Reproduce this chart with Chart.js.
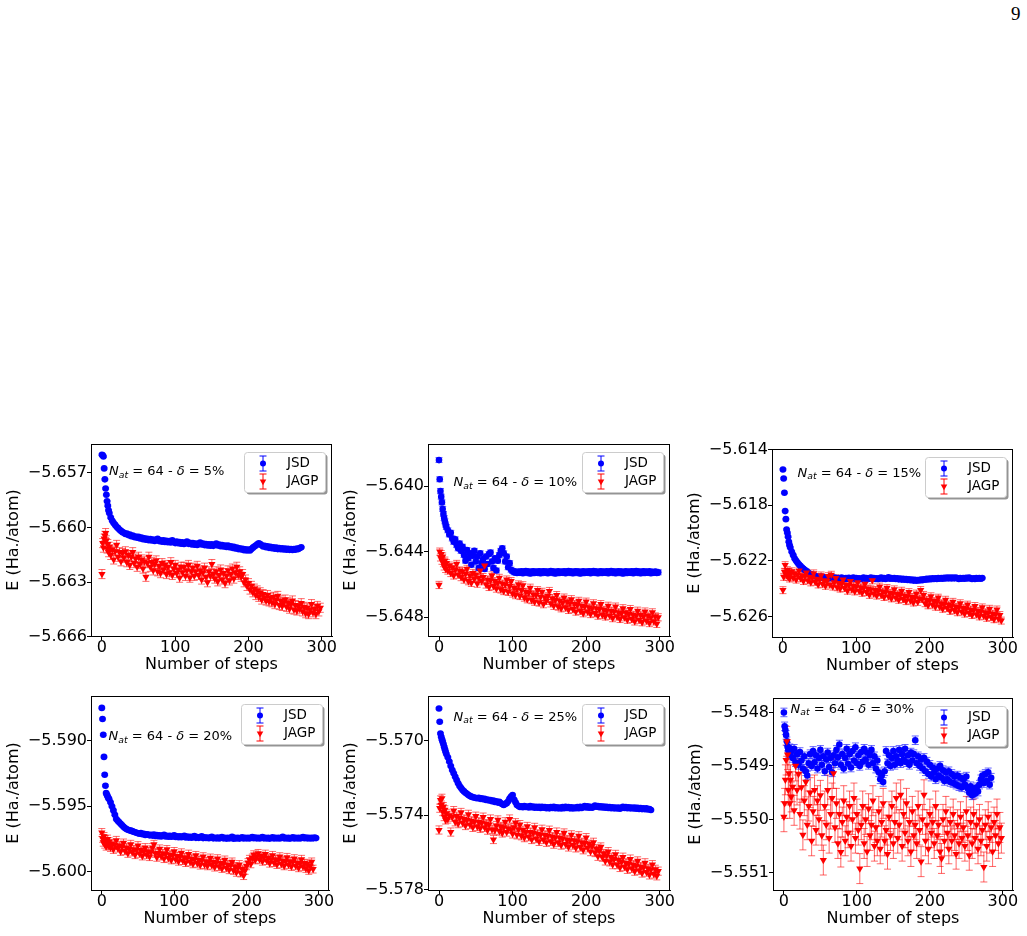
<!DOCTYPE html>
<html><head><meta charset="utf-8">
<script src="https://cdn.jsdelivr.net/npm/chart.js@4.4.1/dist/chart.umd.min.js"></script>
<style>
html,body{margin:0;padding:0;background:#fff;}
body{width:1027px;height:936px;position:relative;overflow:hidden;}
canvas{position:absolute;}
#pg{position:absolute;left:1011px;top:4px;font-family:"Liberation Serif",serif;font-size:19px;line-height:19px;color:#000;}
</style></head><body>
<div id="pg">9</div>
<script>
// ---------------- DATA ----------------
const steps = [0,1,2,3,4,5,6,7,8,9,
10,12,14,16,18,20,22,24,26,28,
30,32,34,36,38,40,42,44,46,48,
50,52,54,56,58,60,62,64,66,68,
70,72,74,76,78,80,82,84,86,88,
90,92,94,96,98,100,102,104,106,108,
110,112,114,116,118,120,122,124,126,128,
130,132,134,136,138,140,142,144,146,148,
150,152,154,156,158,160,162,164,166,168,
170,172,174,176,178,180,182,184,186,188,
190,192,194,196,198,200,202,204,206,208,
210,212,214,216,218,220,222,224,226,228,
230,232,234,236,238,240,242,244,246,248,
250,252,254,256,258,260,262,264,266,268,
270,272,274,276,278,280,282,284,286,288,
290,292,294,296,298];
const xTicks = [0,100,200,300];
const deltas = ['5%','10%','15%','20%','25%','30%'];
const seriesNames = ['JSD','JAGP'];

const jsd5 = [-5.65600,-5.65603,-5.65610,-5.65675,-5.65735,-5.65785,-5.65820,-5.65855,-5.65880,-5.65905,
-5.65920,-5.65945,-5.65962,-5.65975,-5.65985,-5.65995,-5.66003,-5.66012,-5.66018,-5.66025,
-5.66028,-5.66035,-5.66032,-5.66041,-5.66038,-5.66047,-5.66044,-5.66052,-5.66049,-5.66056,
-5.66050,-5.66060,-5.66055,-5.66064,-5.66058,-5.66067,-5.66061,-5.66069,-5.66063,-5.66071,
-5.66065,-5.66073,-5.66067,-5.66062,-5.66074,-5.66069,-5.66077,-5.66070,-5.66079,-5.66072,
-5.66080,-5.66074,-5.66082,-5.66069,-5.66079,-5.66085,-5.66077,-5.66086,-5.66079,-5.66088,
-5.66081,-5.66090,-5.66083,-5.66076,-5.66089,-5.66084,-5.66092,-5.66085,-5.66094,-5.66087,
-5.66095,-5.66088,-5.66082,-5.66093,-5.66087,-5.66096,-5.66090,-5.66098,-5.66091,-5.66099,
-5.66092,-5.66100,-5.66094,-5.66088,-5.66098,-5.66093,-5.66102,-5.66096,-5.66104,-5.66098,
-5.66106,-5.66099,-5.66108,-5.66102,-5.66111,-5.66105,-5.66114,-5.66110,-5.66118,-5.66113,
-5.66120,-5.66116,-5.66124,-5.66119,-5.66126,-5.66121,-5.66125,-5.66117,-5.66110,-5.66104,
-5.66098,-5.66092,-5.66086,-5.66090,-5.66097,-5.66104,-5.66100,-5.66108,-5.66103,-5.66111,
-5.66106,-5.66113,-5.66108,-5.66116,-5.66110,-5.66118,-5.66112,-5.66119,-5.66114,-5.66120,
-5.66115,-5.66121,-5.66116,-5.66122,-5.66117,-5.66123,-5.66118,-5.66121,-5.66115,-5.66118,
-5.66112,-5.66108];
const jagp5 = [-5.66255,-5.66085,-5.66110,-5.66060,-5.66045,-5.66030,-5.66070,-5.66115,-5.66090,-5.66135,
-5.66105,-5.66150,-5.66120,-5.66175,-5.66130,-5.66095,-5.66160,-5.66135,-5.66185,-5.66140,
-5.66165,-5.66130,-5.66190,-5.66150,-5.66205,-5.66160,-5.66135,-5.66195,-5.66170,-5.66215,
-5.66160,-5.66200,-5.66175,-5.66225,-5.66185,-5.66270,-5.66195,-5.66160,-5.66215,-5.66190,
-5.66235,-5.66200,-5.66180,-5.66240,-5.66210,-5.66250,-5.66195,-5.66230,-5.66205,-5.66255,
-5.66215,-5.66245,-5.66190,-5.66260,-5.66225,-5.66205,-5.66250,-5.66230,-5.66275,-5.66215,
-5.66245,-5.66215,-5.66265,-5.66235,-5.66205,-5.66275,-5.66240,-5.66220,-5.66265,-5.66240,
-5.66210,-5.66260,-5.66235,-5.66285,-5.66245,-5.66220,-5.66270,-5.66300,-5.66240,-5.66265,
-5.66200,-5.66255,-5.66280,-5.66240,-5.66295,-5.66260,-5.66230,-5.66285,-5.66250,-5.66305,
-5.66265,-5.66235,-5.66290,-5.66255,-5.66225,-5.66280,-5.66245,-5.66215,-5.66260,-5.66240,
-5.66270,-5.66255,-5.66300,-5.66285,-5.66320,-5.66305,-5.66340,-5.66320,-5.66355,-5.66335,
-5.66370,-5.66345,-5.66380,-5.66355,-5.66395,-5.66365,-5.66385,-5.66400,-5.66370,-5.66405,
-5.66385,-5.66410,-5.66380,-5.66420,-5.66395,-5.66375,-5.66425,-5.66400,-5.66430,-5.66410,
-5.66395,-5.66435,-5.66410,-5.66445,-5.66420,-5.66400,-5.66450,-5.66425,-5.66455,-5.66430,
-5.66445,-5.66415,-5.66460,-5.66435,-5.66470,-5.66440,-5.66475,-5.66450,-5.66420,-5.66465,
-5.66445,-5.66475,-5.66430,-5.66460,-5.66440];

const jsd10 = [-5.63842,-5.63959,-5.64030,-5.64065,-5.64100,-5.64140,-5.64170,-5.64195,-5.64215,-5.64235,
-5.64250,-5.64270,-5.64295,-5.64285,-5.64320,-5.64340,-5.64325,-5.64360,-5.64380,-5.64350,
-5.64395,-5.64370,-5.64420,-5.64455,-5.64390,-5.64440,-5.64410,-5.64480,-5.64425,-5.64395,
-5.64460,-5.64430,-5.64500,-5.64410,-5.64470,-5.64445,-5.64505,-5.64430,-5.64475,-5.64415,
-5.64405,-5.64460,-5.64500,-5.64440,-5.64515,-5.64455,-5.64420,-5.64395,-5.64380,-5.64410,
-5.64460,-5.64430,-5.64495,-5.64470,-5.64510,-5.64518,-5.64526,-5.64521,-5.64530,-5.64523,
-5.64528,-5.64520,-5.64531,-5.64524,-5.64518,-5.64529,-5.64522,-5.64533,-5.64525,-5.64519,
-5.64530,-5.64523,-5.64528,-5.64520,-5.64532,-5.64525,-5.64519,-5.64529,-5.64522,-5.64531,
-5.64524,-5.64518,-5.64529,-5.64522,-5.64533,-5.64526,-5.64520,-5.64530,-5.64523,-5.64528,
-5.64520,-5.64531,-5.64524,-5.64518,-5.64528,-5.64521,-5.64532,-5.64525,-5.64519,-5.64529,
-5.64522,-5.64533,-5.64526,-5.64520,-5.64530,-5.64523,-5.64528,-5.64519,-5.64531,-5.64524,
-5.64518,-5.64529,-5.64522,-5.64532,-5.64525,-5.64519,-5.64530,-5.64523,-5.64528,-5.64520,
-5.64531,-5.64524,-5.64518,-5.64528,-5.64521,-5.64532,-5.64525,-5.64519,-5.64529,-5.64522,
-5.64533,-5.64526,-5.64520,-5.64530,-5.64523,-5.64528,-5.64519,-5.64531,-5.64524,-5.64518,
-5.64529,-5.64522,-5.64532,-5.64525,-5.64519,-5.64530,-5.64523,-5.64528,-5.64520,-5.64531,
-5.64524,-5.64529,-5.64522,-5.64530,-5.64526];
const jagp10 = [-5.64603,-5.64400,-5.64435,-5.64415,-5.64455,-5.64430,-5.64470,-5.64490,-5.64455,-5.64505,
-5.64470,-5.64515,-5.64485,-5.64530,-5.64495,-5.64545,-5.64510,-5.64475,-5.64540,-5.64515,
-5.64555,-5.64520,-5.64570,-5.64535,-5.64505,-5.64580,-5.64545,-5.64590,-5.64530,-5.64565,
-5.64540,-5.64595,-5.64560,-5.64515,-5.64580,-5.64555,-5.64485,-5.64600,-5.64570,-5.64615,
-5.64575,-5.64545,-5.64610,-5.64580,-5.64625,-5.64590,-5.64560,-5.64630,-5.64595,-5.64640,
-5.64600,-5.64570,-5.64645,-5.64610,-5.64580,-5.64655,-5.64620,-5.64665,-5.64630,-5.64600,
-5.64670,-5.64635,-5.64605,-5.64680,-5.64645,-5.64690,-5.64650,-5.64620,-5.64695,-5.64660,
-5.64705,-5.64665,-5.64635,-5.64710,-5.64675,-5.64645,-5.64720,-5.64680,-5.64700,-5.64670,
-5.64640,-5.64715,-5.64685,-5.64730,-5.64695,-5.64665,-5.64735,-5.64700,-5.64745,-5.64710,
-5.64680,-5.64740,-5.64705,-5.64755,-5.64715,-5.64690,-5.64750,-5.64720,-5.64765,-5.64725,
-5.64700,-5.64760,-5.64730,-5.64775,-5.64735,-5.64705,-5.64765,-5.64740,-5.64780,-5.64745,
-5.64715,-5.64775,-5.64745,-5.64790,-5.64750,-5.64720,-5.64785,-5.64755,-5.64795,-5.64760,
-5.64730,-5.64790,-5.64760,-5.64805,-5.64765,-5.64735,-5.64795,-5.64770,-5.64810,-5.64775,
-5.64745,-5.64800,-5.64770,-5.64815,-5.64780,-5.64750,-5.64810,-5.64785,-5.64825,-5.64790,
-5.64760,-5.64815,-5.64785,-5.64830,-5.64795,-5.64765,-5.64820,-5.64790,-5.64835,-5.64800,
-5.64770,-5.64825,-5.64795,-5.64840,-5.64800];

const jsd15 = [-5.61542,-5.61607,-5.61710,-5.61842,-5.61900,-5.61974,-5.61998,-5.62027,-5.62063,-5.62087,
-5.62104,-5.62135,-5.62159,-5.62183,-5.62200,-5.62214,-5.62226,-5.62238,-5.62248,-5.62258,
-5.62266,-5.62274,-5.62283,-5.62291,-5.62296,-5.62301,-5.62306,-5.62310,-5.62313,-5.62315,
-5.62318,-5.62313,-5.62322,-5.62316,-5.62324,-5.62319,-5.62326,-5.62320,-5.62325,-5.62318,
-5.62327,-5.62322,-5.62329,-5.62323,-5.62328,-5.62321,-5.62326,-5.62331,-5.62324,-5.62329,
-5.62322,-5.62330,-5.62325,-5.62320,-5.62328,-5.62323,-5.62330,-5.62326,-5.62332,-5.62327,
-5.62321,-5.62329,-5.62324,-5.62331,-5.62326,-5.62320,-5.62328,-5.62323,-5.62330,-5.62325,
-5.62331,-5.62326,-5.62320,-5.62329,-5.62324,-5.62330,-5.62325,-5.62319,-5.62328,-5.62323,
-5.62329,-5.62324,-5.62331,-5.62326,-5.62333,-5.62328,-5.62335,-5.62330,-5.62336,-5.62331,
-5.62338,-5.62333,-5.62340,-5.62335,-5.62342,-5.62337,-5.62343,-5.62338,-5.62341,-5.62335,
-5.62339,-5.62333,-5.62336,-5.62330,-5.62334,-5.62328,-5.62332,-5.62326,-5.62331,-5.62325,
-5.62330,-5.62324,-5.62329,-5.62323,-5.62328,-5.62322,-5.62327,-5.62321,-5.62326,-5.62320,
-5.62327,-5.62321,-5.62326,-5.62320,-5.62325,-5.62330,-5.62324,-5.62329,-5.62323,-5.62328,
-5.62322,-5.62327,-5.62321,-5.62326,-5.62331,-5.62325,-5.62330,-5.62324,-5.62329,-5.62323,
-5.62328,-5.62324];
const jagp15 = [-5.62411,-5.62315,-5.62279,-5.62231,-5.62291,-5.62303,-5.62267,-5.62315,-5.62280,-5.62327,
-5.62295,-5.62275,-5.62320,-5.62290,-5.62335,-5.62300,-5.62270,-5.62325,-5.62305,-5.62345,
-5.62310,-5.62285,-5.62340,-5.62315,-5.62355,-5.62320,-5.62290,-5.62350,-5.62330,-5.62370,
-5.62335,-5.62305,-5.62365,-5.62340,-5.62380,-5.62345,-5.62310,-5.62370,-5.62300,-5.62385,
-5.62355,-5.62325,-5.62390,-5.62360,-5.62400,-5.62365,-5.62335,-5.62395,-5.62370,-5.62415,
-5.62375,-5.62345,-5.62405,-5.62380,-5.62420,-5.62385,-5.62355,-5.62415,-5.62390,-5.62430,
-5.62395,-5.62365,-5.62425,-5.62400,-5.62445,-5.62405,-5.62340,-5.62435,-5.62410,-5.62450,
-5.62415,-5.62385,-5.62445,-5.62420,-5.62460,-5.62425,-5.62395,-5.62455,-5.62430,-5.62470,
-5.62435,-5.62405,-5.62465,-5.62440,-5.62480,-5.62445,-5.62415,-5.62475,-5.62450,-5.62490,
-5.62455,-5.62425,-5.62485,-5.62460,-5.62500,-5.62465,-5.62435,-5.62495,-5.62470,-5.62410,
-5.62475,-5.62445,-5.62505,-5.62480,-5.62520,-5.62485,-5.62455,-5.62515,-5.62490,-5.62530,
-5.62495,-5.62465,-5.62530,-5.62505,-5.62545,-5.62510,-5.62480,-5.62540,-5.62515,-5.62560,
-5.62525,-5.62495,-5.62555,-5.62530,-5.62570,-5.62535,-5.62505,-5.62565,-5.62540,-5.62580,
-5.62545,-5.62515,-5.62575,-5.62550,-5.62590,-5.62555,-5.62525,-5.62585,-5.62560,-5.62600,
-5.62565,-5.62535,-5.62595,-5.62570,-5.62610,-5.62575,-5.62545,-5.62605,-5.62580,-5.62620,
-5.62585,-5.62550,-5.62615,-5.62590,-5.62630];

const jsd20 = [-5.58747,-5.58832,-5.58952,-5.59122,-5.59258,-5.59342,-5.59398,-5.59411,-5.59423,-5.59436,
-5.59444,-5.59469,-5.59500,-5.59531,-5.59564,-5.59597,-5.59610,-5.59622,-5.59634,-5.59645,
-5.59656,-5.59666,-5.59673,-5.59679,-5.59683,-5.59686,-5.59690,-5.59694,-5.59698,-5.59702,
-5.59706,-5.59709,-5.59705,-5.59714,-5.59710,-5.59719,-5.59713,-5.59716,-5.59722,-5.59718,
-5.59724,-5.59715,-5.59727,-5.59720,-5.59728,-5.59722,-5.59730,-5.59724,-5.59718,-5.59731,
-5.59725,-5.59732,-5.59726,-5.59733,-5.59728,-5.59722,-5.59735,-5.59729,-5.59736,-5.59730,
-5.59737,-5.59731,-5.59725,-5.59738,-5.59732,-5.59739,-5.59733,-5.59740,-5.59734,-5.59728,
-5.59741,-5.59735,-5.59741,-5.59736,-5.59730,-5.59743,-5.59737,-5.59742,-5.59738,-5.59744,
-5.59739,-5.59733,-5.59745,-5.59740,-5.59745,-5.59739,-5.59746,-5.59741,-5.59735,-5.59745,
-5.59740,-5.59747,-5.59741,-5.59746,-5.59740,-5.59734,-5.59748,-5.59741,-5.59746,-5.59740,
-5.59747,-5.59742,-5.59736,-5.59746,-5.59740,-5.59745,-5.59741,-5.59746,-5.59740,-5.59735,
-5.59744,-5.59738,-5.59745,-5.59740,-5.59746,-5.59741,-5.59735,-5.59745,-5.59740,-5.59746,
-5.59741,-5.59747,-5.59742,-5.59736,-5.59746,-5.59740,-5.59745,-5.59741,-5.59746,-5.59740,
-5.59734,-5.59745,-5.59740,-5.59746,-5.59741,-5.59747,-5.59742,-5.59736,-5.59746,-5.59740,
-5.59745,-5.59741,-5.59746,-5.59740,-5.59735,-5.59744,-5.59739,-5.59745,-5.59740,-5.59746,
-5.59741,-5.59745,-5.59739,-5.59743];
const jagp20 = [-5.59700,-5.59745,-5.59775,-5.59730,-5.59790,-5.59755,-5.59805,-5.59770,-5.59750,-5.59800,
-5.59770,-5.59815,-5.59785,-5.59830,-5.59795,-5.59760,-5.59820,-5.59800,-5.59845,-5.59810,
-5.59780,-5.59840,-5.59815,-5.59860,-5.59825,-5.59790,-5.59850,-5.59830,-5.59870,-5.59835,
-5.59800,-5.59860,-5.59835,-5.59880,-5.59845,-5.59815,-5.59870,-5.59845,-5.59885,-5.59850,
-5.59815,-5.59790,-5.59860,-5.59890,-5.59855,-5.59825,-5.59880,-5.59860,-5.59900,-5.59865,
-5.59830,-5.59895,-5.59870,-5.59910,-5.59875,-5.59845,-5.59905,-5.59880,-5.59920,-5.59885,
-5.59855,-5.59915,-5.59890,-5.59930,-5.59895,-5.59865,-5.59925,-5.59900,-5.59940,-5.59905,
-5.59875,-5.59935,-5.59910,-5.59950,-5.59915,-5.59885,-5.59945,-5.59920,-5.59955,-5.59925,
-5.59895,-5.59950,-5.59925,-5.59965,-5.59930,-5.59900,-5.59960,-5.59935,-5.59975,-5.59940,
-5.59910,-5.59970,-5.59945,-5.59985,-5.59950,-5.59925,-5.59990,-5.59960,-5.60005,-5.59970,
-5.59945,-5.60010,-5.59980,-5.60030,-5.59990,-5.59955,-5.59930,-5.59905,-5.59940,-5.59895,
-5.59870,-5.59910,-5.59885,-5.59860,-5.59905,-5.59880,-5.59920,-5.59890,-5.59865,-5.59915,
-5.59895,-5.59935,-5.59905,-5.59875,-5.59930,-5.59905,-5.59945,-5.59910,-5.59885,-5.59940,
-5.59915,-5.59955,-5.59920,-5.59890,-5.59945,-5.59920,-5.59960,-5.59925,-5.59900,-5.59955,
-5.59930,-5.59970,-5.59935,-5.59905,-5.59960,-5.59935,-5.59975,-5.59940,-5.59990,-5.59955,
-5.59925,-5.59980];

const jsd25 = [-5.56827,-5.56898,-5.56961,-5.56979,-5.56993,-5.57005,-5.57018,-5.57032,-5.57046,-5.57059,
-5.57071,-5.57089,-5.57112,-5.57136,-5.57157,-5.57175,-5.57193,-5.57211,-5.57228,-5.57243,
-5.57254,-5.57264,-5.57272,-5.57279,-5.57285,-5.57291,-5.57296,-5.57300,-5.57303,-5.57305,
-5.57307,-5.57309,-5.57306,-5.57312,-5.57309,-5.57314,-5.57311,-5.57318,-5.57315,-5.57321,
-5.57318,-5.57325,-5.57321,-5.57329,-5.57325,-5.57332,-5.57328,-5.57336,-5.57340,-5.57345,
-5.57339,-5.57335,-5.57325,-5.57310,-5.57300,-5.57291,-5.57315,-5.57330,-5.57345,-5.57350,
-5.57356,-5.57352,-5.57357,-5.57350,-5.57356,-5.57353,-5.57358,-5.57351,-5.57357,-5.57353,
-5.57359,-5.57354,-5.57360,-5.57355,-5.57361,-5.57354,-5.57360,-5.57356,-5.57362,-5.57357,
-5.57363,-5.57356,-5.57361,-5.57355,-5.57362,-5.57357,-5.57363,-5.57358,-5.57364,-5.57356,
-5.57362,-5.57355,-5.57361,-5.57356,-5.57363,-5.57357,-5.57364,-5.57358,-5.57362,-5.57356,
-5.57362,-5.57355,-5.57361,-5.57356,-5.57350,-5.57358,-5.57352,-5.57359,-5.57354,-5.57360,
-5.57355,-5.57348,-5.57354,-5.57350,-5.57357,-5.57352,-5.57358,-5.57353,-5.57359,-5.57355,
-5.57361,-5.57356,-5.57362,-5.57357,-5.57363,-5.57358,-5.57364,-5.57359,-5.57365,-5.57360,
-5.57355,-5.57361,-5.57356,-5.57362,-5.57357,-5.57363,-5.57358,-5.57364,-5.57359,-5.57365,
-5.57360,-5.57366,-5.57361,-5.57367,-5.57362,-5.57368,-5.57363,-5.57369,-5.57366,-5.57372];
const jagp25 = [-5.57479,-5.57362,-5.57318,-5.57345,-5.57309,-5.57380,-5.57354,-5.57407,-5.57371,-5.57425,
-5.57390,-5.57420,-5.57400,-5.57490,-5.57410,-5.57375,-5.57435,-5.57405,-5.57445,-5.57415,
-5.57385,-5.57440,-5.57420,-5.57455,-5.57425,-5.57395,-5.57450,-5.57430,-5.57465,-5.57435,
-5.57405,-5.57460,-5.57435,-5.57470,-5.57440,-5.57410,-5.57465,-5.57445,-5.57480,-5.57450,
-5.57420,-5.57475,-5.57530,-5.57480,-5.57455,-5.57425,-5.57485,-5.57460,-5.57495,-5.57465,
-5.57435,-5.57490,-5.57470,-5.57420,-5.57475,-5.57500,-5.57465,-5.57440,-5.57505,-5.57475,
-5.57450,-5.57510,-5.57480,-5.57520,-5.57490,-5.57460,-5.57515,-5.57490,-5.57530,-5.57495,
-5.57465,-5.57525,-5.57500,-5.57540,-5.57505,-5.57475,-5.57530,-5.57505,-5.57545,-5.57510,
-5.57480,-5.57540,-5.57515,-5.57555,-5.57520,-5.57490,-5.57545,-5.57520,-5.57560,-5.57525,
-5.57495,-5.57555,-5.57530,-5.57570,-5.57535,-5.57505,-5.57560,-5.57535,-5.57575,-5.57540,
-5.57510,-5.57570,-5.57545,-5.57585,-5.57550,-5.57520,-5.57575,-5.57555,-5.57595,-5.57565,
-5.57545,-5.57600,-5.57580,-5.57620,-5.57590,-5.57570,-5.57625,-5.57605,-5.57645,-5.57615,
-5.57595,-5.57650,-5.57625,-5.57665,-5.57635,-5.57610,-5.57665,-5.57640,-5.57680,-5.57650,
-5.57625,-5.57675,-5.57655,-5.57690,-5.57660,-5.57635,-5.57685,-5.57665,-5.57700,-5.57670,
-5.57645,-5.57695,-5.57675,-5.57710,-5.57680,-5.57655,-5.57705,-5.57685,-5.57720,-5.57690,
-5.57665,-5.57715,-5.57690,-5.57725,-5.57700];

const jsd30 = [-5.54800,-5.54826,-5.54833,-5.54842,-5.54854,-5.54864,-5.54870,-5.54876,-5.54867,-5.54879,
-5.54872,-5.54885,-5.54868,-5.54893,-5.54878,-5.54898,-5.54874,-5.54890,-5.54905,-5.54882,
-5.54910,-5.54918,-5.54895,-5.54878,-5.54900,-5.54872,-5.54893,-5.54880,-5.54905,-5.54885,
-5.54870,-5.54898,-5.54882,-5.54910,-5.54888,-5.54875,-5.54902,-5.54885,-5.54912,-5.54880,
-5.54895,-5.54870,-5.54884,-5.54860,-5.54898,-5.54878,-5.54905,-5.54885,-5.54868,-5.54896,
-5.54878,-5.54903,-5.54872,-5.54890,-5.54865,-5.54895,-5.54880,-5.54900,-5.54874,-5.54892,
-5.54868,-5.54888,-5.54875,-5.54898,-5.54880,-5.54870,-5.54895,-5.54882,-5.54905,-5.54890,
-5.54912,-5.54925,-5.54918,-5.54930,-5.54910,-5.54872,-5.54895,-5.54880,-5.54900,-5.54885,
-5.54872,-5.54898,-5.54882,-5.54890,-5.54870,-5.54895,-5.54878,-5.54888,-5.54868,-5.54893,
-5.54880,-5.54898,-5.54875,-5.54890,-5.54878,-5.54852,-5.54895,-5.54882,-5.54900,-5.54888,
-5.54905,-5.54885,-5.54910,-5.54892,-5.54915,-5.54898,-5.54920,-5.54903,-5.54912,-5.54925,
-5.54905,-5.54918,-5.54900,-5.54922,-5.54908,-5.54928,-5.54912,-5.54925,-5.54910,-5.54930,
-5.54915,-5.54932,-5.54920,-5.54935,-5.54918,-5.54938,-5.54922,-5.54940,-5.54925,-5.54935,
-5.54920,-5.54942,-5.54950,-5.54938,-5.54955,-5.54945,-5.54952,-5.54940,-5.54948,-5.54935,
-5.54925,-5.54918,-5.54932,-5.54915,-5.54928,-5.54912,-5.54935,-5.54922];
const jagp30 = [-5.54995,-5.54970,-5.54926,-5.54889,-5.54854,-5.54879,-5.54945,-5.54914,-5.54970,-5.54926,
-5.54958,-5.54939,-5.54983,-5.54900,-5.54945,-5.54915,-5.54990,-5.54940,-5.55029,-5.54965,
-5.54930,-5.55010,-5.54975,-5.54950,-5.55040,-5.54985,-5.54945,-5.55020,-5.54965,-5.55000,
-5.54955,-5.55030,-5.55076,-5.54975,-5.55010,-5.54945,-5.55035,-5.54990,-5.54960,-5.54914,
-5.55015,-5.54970,-5.55045,-5.54990,-5.55061,-5.55005,-5.54965,-5.55040,-5.54995,-5.55025,
-5.54975,-5.55050,-5.55000,-5.54960,-5.55035,-5.54990,-5.55020,-5.55092,-5.55010,-5.54975,
-5.55045,-5.55000,-5.55060,-5.54980,-5.55030,-5.55010,-5.54965,-5.55050,-5.55015,-5.55040,
-5.54985,-5.55055,-5.55005,-5.54970,-5.55040,-5.55020,-5.55065,-5.54995,-5.55030,-5.54975,
-5.55045,-5.55005,-5.54960,-5.55035,-5.55010,-5.54954,-5.55050,-5.54990,-5.55025,-5.54970,
-5.55040,-5.55005,-5.55060,-5.54985,-5.55030,-5.55010,-5.55045,-5.54975,-5.55020,-5.55079,
-5.55000,-5.54954,-5.55040,-5.55010,-5.55055,-5.54990,-5.55025,-5.55005,-5.55045,-5.54975,
-5.55030,-5.55010,-5.55060,-5.55073,-5.55000,-5.55040,-5.54985,-5.55025,-5.55055,-5.55005,
-5.55040,-5.54990,-5.55030,-5.55065,-5.55010,-5.55045,-5.54995,-5.55035,-5.55015,-5.55050,
-5.54985,-5.55030,-5.55067,-5.55005,-5.55045,-5.54990,-5.55035,-5.55010,-5.55055,-5.55000,
-5.55040,-5.55020,-5.55089,-5.55010,-5.55050,-5.54995,-5.55035,-5.55015,-5.55060,-5.55005,
-5.55030,-5.54990,-5.55045,-5.55015,-5.55035];

const jsdErr  = [0.00004, 0.00015, 0.00005, 0.00006, 0.00004, 0.00008];
const jagpErr = [0.00025, 0.00022, 0.00025, 0.00030, 0.00022, 0.00028];

const yTicks5  = [-5.666,-5.663,-5.660,-5.657];
const yTicks10 = [-5.648,-5.644,-5.640];
const yTicks15 = [-5.626,-5.622,-5.618,-5.614];
const yTicks20 = [-5.600,-5.595,-5.590];
const yTicks25 = [-5.578,-5.574,-5.570];
const yTicks30 = [-5.551,-5.550,-5.549,-5.548];

// ---------------- LAYOUT ----------------
const FONT = '"DejaVu Sans"';
const panels = [
  {jsd:jsd5,  jagp:jagp5,  yt:yTicks5,  ymin:-5.66595, ymax:-5.65541, area:{l:91, t:444,r:332, b:636}, note:[18,28]},
  {jsd:jsd10, jagp:jagp10, yt:yTicks10, ymin:-5.64914, ymax:-5.63744, area:{l:428,t:444,r:670, b:636}, note:[25.5,39]},
  {jsd:jsd15, jagp:jagp15, yt:yTicks15, ymin:-5.62748, ymax:-5.61395, area:{l:772,t:449,r:1013,b:637}, note:[25.5,24.5]},
  {jsd:jsd20, jagp:jagp20, yt:yTicks20, ymin:-5.60140, ymax:-5.58656, area:{l:91, t:696,r:329, b:890}, note:[17.5,41]},
  {jsd:jsd25, jagp:jagp25, yt:yTicks25, ymin:-5.57801, ymax:-5.56760, area:{l:428,t:696,r:670, b:890}, note:[25.5,21.5]},
  {jsd:jsd30, jagp:jagp30, yt:yTicks30, ymin:-5.55132, ymax:-5.54773, area:{l:773,t:698,r:1013,b:890}, note:[17.5,11.5]}
];
const PADL = 92, PADT = 14, PADR = 16, PADB = 50;

function rr(ctx, x, y, w, h, r){
  ctx.beginPath();
  ctx.moveTo(x+r, y); ctx.lineTo(x+w-r, y); ctx.arcTo(x+w, y, x+w, y+r, r);
  ctx.lineTo(x+w, y+h-r); ctx.arcTo(x+w, y+h, x+w-r, y+h, r);
  ctx.lineTo(x+r, y+h); ctx.arcTo(x, y+h, x, y+h-r, r);
  ctx.lineTo(x, y+r); ctx.arcTo(x, y, x+r, y, r); ctx.closePath();
}
function downTri(ctx, x, y, r){
  ctx.beginPath();
  ctx.moveTo(x, y + r);
  ctx.lineTo(x - r*0.866, y - r/2);
  ctx.lineTo(x + r*0.866, y - r/2);
  ctx.closePath();
}

const errPlugin = {
  id: 'errbars',
  beforeDatasetsDraw(chart){
    const ctx = chart.ctx, xs = chart.scales.x, ys = chart.scales.y;
    chart.data.datasets.forEach(ds => {
      ctx.save();
      ctx.strokeStyle = ds.errColor; ctx.lineWidth = 1;
      ctx.beginPath();
      ds.data.forEach(p => {
        const x = xs.getPixelForValue(p.x);
        const y1 = ys.getPixelForValue(p.y + ds.errSize);
        const y2 = ys.getPixelForValue(p.y - ds.errSize);
        ctx.moveTo(x, y1); ctx.lineTo(x, y2);
        ctx.moveTo(x-3.5, y1); ctx.lineTo(x+3.5, y1);
        ctx.moveTo(x-3.5, y2); ctx.lineTo(x+3.5, y2);
      });
      ctx.stroke();
      ctx.restore();
    });
  }
};

const decoPlugin = {
  id: 'deco',
  afterDraw(chart){
    const ctx = chart.ctx, a = chart.chartArea, o = chart.options.plugins.deco;
    ctx.save();
    ctx.strokeStyle = '#000'; ctx.lineWidth = 1;
    ctx.strokeRect(Math.round(a.left)+0.5, Math.round(a.top)+0.5, Math.round(a.right-a.left)-1, Math.round(a.bottom-a.top));
    let x = a.left + o.note[0]; const y = a.top + o.note[1];
    ctx.fillStyle = '#000'; ctx.textBaseline = 'middle'; ctx.textAlign = 'left';
    const part = (txt, font, dy) => { ctx.font = font; ctx.fillText(txt, x, y + dy); x += ctx.measureText(txt).width; };
    part('N', 'italic 13px ' + FONT, 0);
    part('at', 'italic 9.3px ' + FONT, 3.5);
    part(' = 64 - ', '13px ' + FONT, 0);
    part('\u03B4', 'italic 13px ' + FONT, 0);
    part(' = ' + o.delta, '13px ' + FONT, 0);
    const w = 81, h = 40, lx = a.right - 7 - w, ly = a.top + 8;
    rr(ctx, lx+2.5, ly+2.5, w, h, 3); ctx.fillStyle = 'rgba(0,0,0,0.42)'; ctx.fill();
    rr(ctx, lx+0.5, ly+0.5, w, h, 3); ctx.fillStyle = '#fff'; ctx.fill();
    ctx.strokeStyle = '#cccccc'; ctx.lineWidth = 1; ctx.stroke();
    const rows = [{dy:11.5, c:'#0000ff', m:'c', t:seriesNames[0]}, {dy:29.5, c:'#ff0000', m:'v', t:seriesNames[1]}];
    rows.forEach(r => {
      const cx = lx + 19, cy = ly + r.dy;
      ctx.strokeStyle = r.c; ctx.lineWidth = 1;
      ctx.beginPath();
      ctx.moveTo(cx, cy-7.5); ctx.lineTo(cx, cy+7.5);
      ctx.moveTo(cx-3.5, cy-7.5); ctx.lineTo(cx+3.5, cy-7.5);
      ctx.moveTo(cx-3.5, cy+7.5); ctx.lineTo(cx+3.5, cy+7.5);
      ctx.stroke();
      ctx.fillStyle = r.c;
      if (r.m === 'c'){ ctx.beginPath(); ctx.arc(cx, cy, 3, 0, Math.PI*2); ctx.fill(); }
      else { downTri(ctx, cx, cy, 3.8); ctx.fill(); }
      ctx.fillStyle = '#000'; ctx.font = '13.5px ' + FONT; ctx.textBaseline = 'middle';
      ctx.fillText(r.t, lx + 43, cy);
    });
    ctx.restore();
  }
};

panels.forEach((p, k) => {
  const A = p.area;
  const c = document.createElement('canvas');
  const W = (A.r - A.l) + PADL + PADR, H = (A.b - A.t) + PADT + PADB;
  c.width = W; c.height = H;
  c.style.width = W + 'px'; c.style.height = H + 'px';
  c.style.left = (A.l - PADL) + 'px'; c.style.top = (A.t - PADT) + 'px';
  document.body.appendChild(c);
  const yt = p.yt;
  new Chart(c, {
    type: 'scatter',
    data: { datasets: [
      { label: seriesNames[1], data: p.jagp.map((v,i) => ({x: steps[i], y: v})),
        errSize: jagpErr[k], errColor: 'rgba(255,0,0,0.6)',
        pointStyle: 'triangle', pointRotation: 180, pointRadius: 4.2,
        pointBackgroundColor: '#ff0000', pointBorderWidth: 0, showLine: false, order: 0 },
      { label: seriesNames[0], data: p.jsd.map((v,i) => ({x: steps[i], y: v})),
        errSize: jsdErr[k], errColor: 'rgba(0,0,255,0.6)',
        pointStyle: 'circle', pointRadius: 3.3,
        pointBackgroundColor: '#0000ff', pointBorderWidth: 0, showLine: false, order: 1 }
    ]},
    options: {
      responsive: false, animation: false, devicePixelRatio: 1,
      events: [],
      layout: { padding: { left: 0, top: PADT, right: PADR, bottom: 0 } },
      plugins: { legend: { display: false }, tooltip: { enabled: false },
                 deco: { note: p.note, delta: deltas[k] } },
      scales: {
        x: {
          type: 'linear', min: -14.95, max: 313.95,
          afterFit: s => { s.height = PADB; },
          afterBuildTicks: s => { s.ticks = xTicks.map(v => ({value: v})); },
          ticks: { font: { family: FONT, size: 16, lineHeight: 1 }, color: '#000', padding: 0, maxRotation: 0, autoSkip: false },
          grid: { display: true, drawOnChartArea: false, drawTicks: true, tickLength: 4, color: '#000', tickWidth: 1 },
          border: { display: true, color: '#000', width: 1 },
          title: { display: true, text: 'Number of steps', color: '#000', font: { family: FONT, size: 16, lineHeight: 1 }, padding: { top: 0, bottom: 12.7 } }
        },
        y: {
          type: 'linear', min: p.ymin, max: p.ymax,
          afterFit: s => { s.width = PADL; },
          afterBuildTicks: s => { s.ticks = yt.map(v => ({value: v})); },
          ticks: { font: { family: FONT, size: 16, lineHeight: 1 }, color: '#000', padding: 0, autoSkip: false,
                   callback: v => '\u2212' + Math.abs(v).toFixed(3) },
          grid: { display: true, drawOnChartArea: false, drawTicks: true, tickLength: 4, color: '#000', tickWidth: 1 },
          border: { display: true, color: '#000', width: 1 },
          title: { display: true, text: 'E (Ha./atom)', color: '#000', font: { family: FONT, size: 16 }, padding: { top: 5.5, bottom: 0 } }
        }
      }
    },
    plugins: [errPlugin, decoPlugin]
  });
});
</script>
</body></html>
